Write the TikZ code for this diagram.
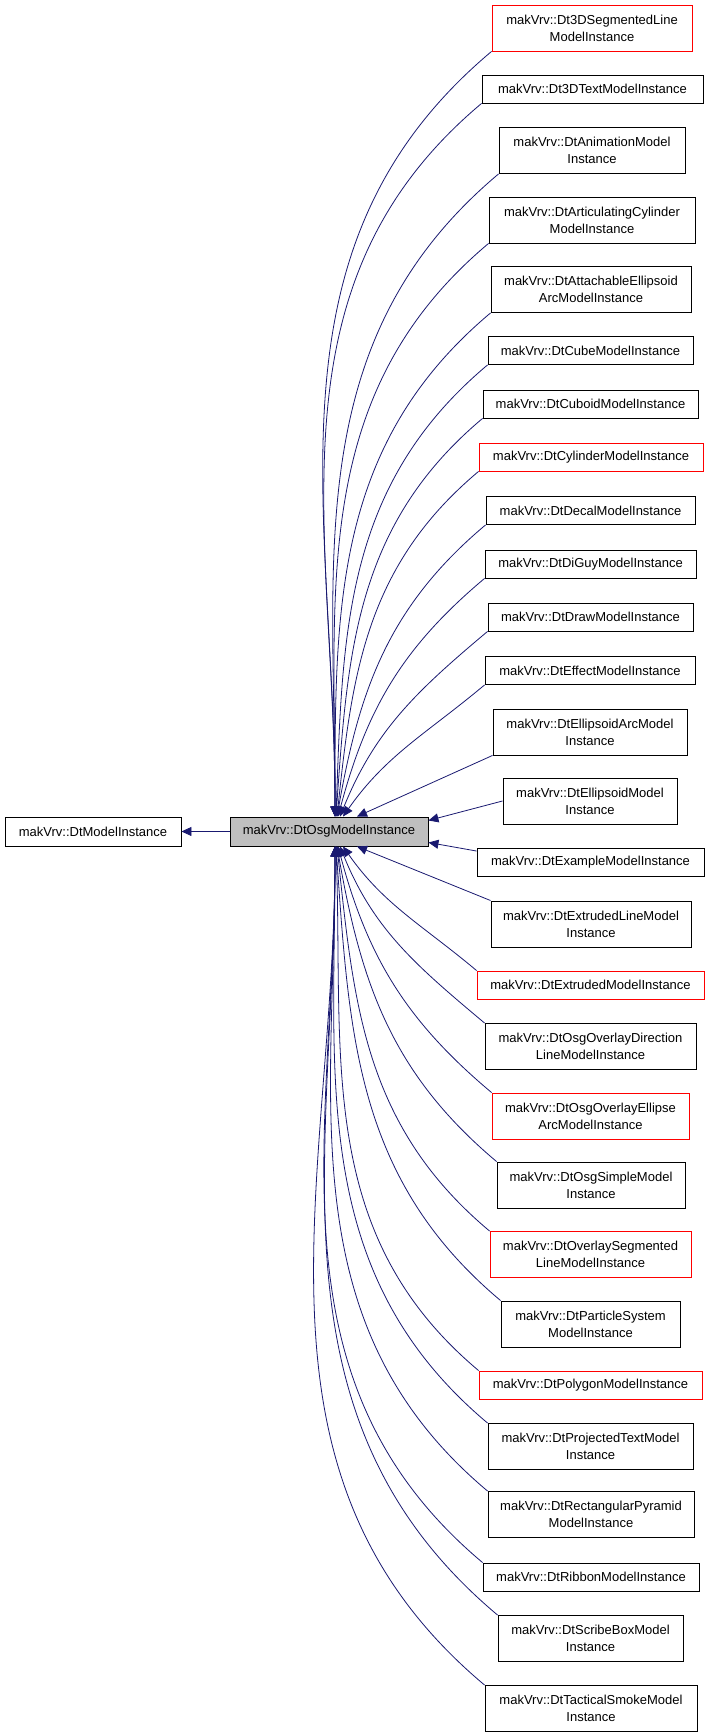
\documentclass[tikz,border=0pt]{standalone}
\usepackage{fontspec}
\setmainfont{Liberation Sans}
\usetikzlibrary{arrows.meta}
\definecolor{edgeblue}{RGB}{25,25,112}
\definecolor{boxgray}{RGB}{191,191,191}
\tikzset{
  cls/.style={draw=black,line width=0.9pt,rectangle,inner sep=0pt,align=center,font=\fontsize{13}{17}\selectfont},
  edge/.style={draw=edgeblue,line width=0.8pt,-{Triangle[length=10pt,width=9pt]}}
}
\begin{document}
\begin{tikzpicture}[x=1pt,y=1pt]
  \useasboundingbox (0,0) rectangle (709,1736);
  \node[cls,fill=boxgray,minimum width=198,minimum height=29] (osg) at (329,1736-831.5) {makVrv::DtOsgModelInstance};
  \node[cls,minimum width=176,minimum height=29] (base) at (93,1736-831.5) {makVrv::DtModelInstance};
  \draw[edge] (osg) -- (base);
  % derived classes: name/left/right/y/height/colour/text
  \foreach \n/\l/\r/\y/\h/\c/\t in {
    seg/492/692/28/46/red/{makVrv::Dt3DSegmentedLine\\ModelInstance},
    txt/482/703/89/28/black/{makVrv::Dt3DTextModelInstance},
    anim/499/685/150.5/46/black/{makVrv::DtAnimationModel\\Instance},
    artic/489/695/220/46/black/{makVrv::DtArticulatingCylinder\\ModelInstance},
    attach/491/691/289.5/46/black/{makVrv::DtAttachableEllipsoid\\ArcModelInstance},
    cube/488/693/350.5/28/black/{makVrv::DtCubeModelInstance},
    cuboid/483/698/404/28/black/{makVrv::DtCuboidModelInstance},
    cyl/479/703/457/28/red/{makVrv::DtCylinderModelInstance},
    decal/486/695/510.5/28/black/{makVrv::DtDecalModelInstance},
    diguy/485/696/564/28/black/{makVrv::DtDiGuyModelInstance},
    draw/488/693/617/28/black/{makVrv::DtDrawModelInstance},
    effect/485/695/670.5/28/black/{makVrv::DtEffectModelInstance},
    ellarc/493/687/732/46/black/{makVrv::DtEllipsoidArcModel\\Instance},
    ell/503/677/801/46/black/{makVrv::DtEllipsoidModel\\Instance},
    example/477/704/862.5/28/black/{makVrv::DtExampleModelInstance},
    extline/491/691/924/46/black/{makVrv::DtExtrudedLineModel\\Instance},
    extruded/477/704/985/28/red/{makVrv::DtExtrudedModelInstance},
    ovdir/485/696/1046.5/46/black/{makVrv::DtOsgOverlayDirection\\LineModelInstance},
    ovell/492/689/1116/46/red/{makVrv::DtOsgOverlayEllipse\\ArcModelInstance},
    simple/497/685/1185/46/black/{makVrv::DtOsgSimpleModel\\Instance},
    ovseg/490/691/1254.5/46/red/{makVrv::DtOverlaySegmented\\LineModelInstance},
    particle/501/680/1324/46/black/{makVrv::DtParticleSystem\\ModelInstance},
    polygon/479/702/1385/28/red/{makVrv::DtPolygonModelInstance},
    projtext/488/693/1446.5/46/black/{makVrv::DtProjectedTextModel\\Instance},
    rectpyr/488/694/1514.5/46/black/{makVrv::DtRectangularPyramid\\ModelInstance},
    ribbon/483/699/1577/28/black/{makVrv::DtRibbonModelInstance},
    scribe/498/683/1638.5/46/black/{makVrv::DtScribeBoxModel\\Instance},
    tactical/485/697/1708.5/46/black/{makVrv::DtTacticalSmokeModel\\Instance}}
    \node[cls,draw=\c,minimum width={\r-\l},minimum height=\h] (\n) at ({(\l+\r)/2},{1736-\y}) {\t};
  % edges above the base class
  \foreach \n/\s/\i in {seg/6/90,txt/6/90,anim/6/90,artic/6/90,attach/6/90,cube/7/88,
    cuboid/7/86,cyl/8/84,decal/8/80,diguy/9/75,draw/11/68,effect/14/55}
    \draw[edge] (\n.south west) to[out=220,in=\i] ([xshift=\s]osg.north);
  \draw[edge] (ellarc.south west) -- ([xshift=28]osg.north);
  \draw[edge] (ell.west) -- ([yshift=11]osg.east);
  \draw[edge] ([yshift=-3]example.north west) -- ([yshift=-11]osg.east);
  \draw[edge] (extline.north west) -- ([xshift=28]osg.south);
  % edges below the base class
  \foreach \n/\s/\i in {extruded/14/305,ovdir/11/292,ovell/9/285,simple/8/280,ovseg/8/276,
    particle/7/274,polygon/7/272,projtext/6/270,rectpyr/6/270,ribbon/6/270,scribe/6/270,tactical/6/270}
    \draw[edge] (\n.north west) to[out=140,in=\i] ([xshift=\s]osg.south);
\end{tikzpicture}
\end{document}
